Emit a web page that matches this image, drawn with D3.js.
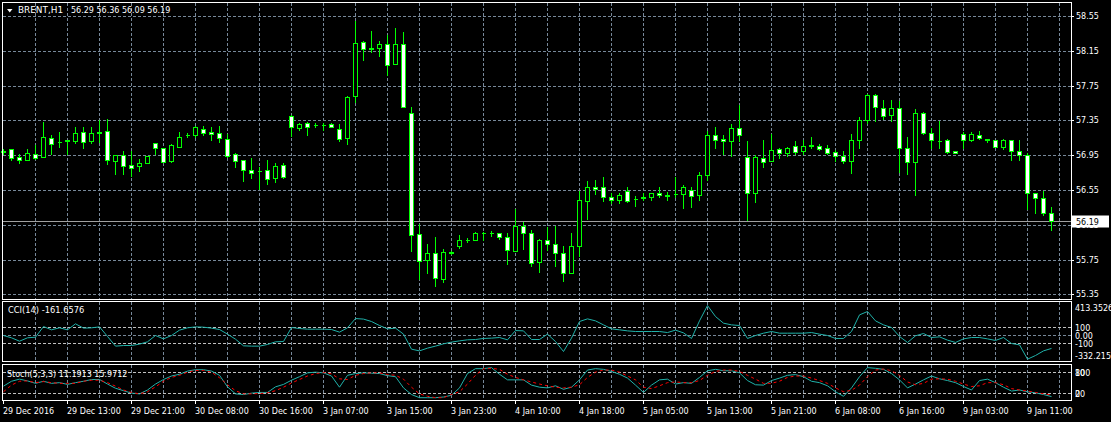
<!DOCTYPE html>
<html><head><meta charset="utf-8">
<script src="https://cdn.jsdelivr.net/npm/d3@7"></script>
<style>
html,body{margin:0;padding:0;background:#000;overflow:hidden}
svg text{font-family:"DejaVu Sans",sans-serif;font-size:8px;fill:#fff}
</style>
</head><body>
<svg id="chart" width="1111" height="422"></svg>
<script>
// ---- data ----
const opens = [57.00,57.02,56.93,56.89,56.97,56.93,57.15,57.105,57.12,57.11,57.22,57.11,57.215,57.23,56.88,56.95,56.84,56.83,56.86,57.09,57.03,56.88,57.05,57.185,57.18,57.25,57.22,57.21,57.14,56.96,56.89,56.78,56.77,56.78,56.69,56.84,
57.40,57.26,57.32,57.30,57.30,57.31,57.25,57.15,57.63,58.25,58.18,58.18,58.23,58.00,58.23,57.44,56.04,55.74,55.82,55.53,55.84,55.90,55.97,55.97,56.06,56.06,56.06,56.01,55.85,56.14,56.06,55.72,55.98,55.93,55.83,55.60,
55.91,56.42,56.59,56.59,56.47,56.44,56.54,56.45,56.465,56.47,56.52,56.49,56.50,56.50,56.55,56.49,56.72,57.18,57.14,57.11,57.26,56.93,56.52,56.92,56.88,57.02,56.98,57.06,57.00,57.067,57.06,57.03,56.99,56.94,
56.88,57.12,57.36,57.64,57.49,57.41,57.49,57.03,56.87,57.44,57.21,57.115,57.12,57.00,57.20,57.12,57.18,57.14,57.12,57.04,57.12,57.00,56.95,56.51,56.46,56.29];
const highs = [57.02,57.02,56.97,57.02,57.07,57.33,57.18,57.22,57.12,57.27,57.28,57.27,57.36,57.37,56.95,57.00,57.00,56.91,56.94,57.09,57.03,57.08,57.22,57.21,57.29,57.29,57.27,57.29,57.20,56.98,56.90,56.92,56.81,56.89,56.86,56.86,
57.41,57.32,57.33,57.32,57.32,57.32,57.31,57.63,58.49,58.27,58.38,58.26,58.33,58.42,58.37,57.50,56.16,55.93,56.01,55.87,55.85,56.03,56.00,56.07,56.07,56.08,56.06,56.05,56.33,56.18,56.09,55.99,56.12,56.14,55.91,56.06,
56.54,56.65,56.66,56.70,56.51,56.51,56.58,56.48,56.51,56.52,56.59,56.53,56.70,56.61,56.59,56.76,57.23,57.28,57.18,57.31,57.53,57.11,56.95,57.12,57.19,57.03,57.04,57.11,57.12,57.16,57.08,57.07,57.01,57.00,
57.20,57.39,57.65,57.66,57.59,57.59,57.57,57.16,57.48,57.45,57.26,57.34,57.14,57.00,57.22,57.22,57.23,57.14,57.12,57.14,57.12,57.13,56.98,56.51,56.54,56.36];
const lows = [56.97,56.89,56.86,56.89,56.91,56.93,56.96,57.04,56.96,57.09,57.03,57.09,57.10,56.85,56.73,56.73,56.71,56.77,56.86,56.96,56.87,56.87,57.04,57.155,57.16,57.18,57.12,57.10,56.93,56.81,56.65,56.69,56.56,56.62,56.64,56.69,
57.17,57.24,57.18,57.28,57.24,57.27,57.11,57.08,57.56,58.05,58.14,58.09,57.87,58.00,57.51,55.85,55.52,55.59,55.45,55.49,55.81,55.88,55.95,55.97,55.98,56.02,55.99,55.70,55.85,55.87,55.67,55.61,55.86,55.67,55.50,55.60,
55.79,56.22,56.50,56.42,56.40,56.40,56.41,56.37,56.43,56.43,56.47,56.44,56.47,56.34,56.36,56.43,56.67,57.03,56.96,56.94,57.11,56.20,56.41,56.81,56.88,56.92,56.94,56.96,56.96,57.03,57.01,56.97,56.88,56.86,
56.74,57.03,57.32,57.34,57.37,57.34,56.76,56.73,56.49,57.20,57.03,57.03,56.98,56.975,57.03,57.11,57.14,57.10,57.04,57.02,56.90,56.89,56.33,56.28,56.26,56.09];
const closes = [56.99,56.92,56.90,56.98,56.92,57.16,57.08,57.10,57.115,57.21,57.10,57.21,57.21,56.89,56.95,56.83,56.80,56.86,56.94,57.03,56.87,57.07,57.16,57.18,57.27,57.21,57.19,57.15,56.94,56.88,56.78,56.75,56.765,56.68,56.83,56.70,
57.27,57.31,57.28,57.30,57.295,57.27,57.14,57.62,58.24,58.17,58.175,58.23,57.99,58.23,57.51,56.03,55.73,55.82,55.54,55.84,55.82,55.98,55.97,56.06,56.06,56.055,56.01,55.86,56.14,56.06,55.71,55.98,55.93,55.82,55.59,55.91,
56.43,56.58,56.56,56.47,56.44,56.49,56.42,56.445,56.46,56.52,56.49,56.485,56.505,56.58,56.48,56.72,57.18,57.13,57.11,57.26,57.18,56.52,56.93,56.87,57.01,56.98,57.03,56.99,57.06,57.062,57.02,56.98,56.94,56.88,
57.12,57.36,57.64,57.50,57.40,57.49,57.03,56.87,57.44,57.21,57.12,57.115,56.99,56.98,57.12,57.20,57.15,57.12,57.05,57.12,57.00,56.95,56.51,56.46,56.28,56.19];

const cciValues = [0,-29,-71,-29,-21,112,71,96,71,146,92,96,108,-12,-133,-125,-125,-108,-79,0,-42,0,67,96,108,104,92,75,17,-46,-129,-133,-133,-112,-79,-75,
100,87,79,79,79,75,42,96,212,205,175,125,83,92,17,-171,-192,-158,-133,-104,-83,-67,-54,-50,-37,-33,-25,-54,62,58,-50,-50,17,-75,-200,-33,
175,208,183,133,83,71,58,50,50,50,50,37,67,33,-37,183,375,237,154,133,125,-37,0,29,50,29,29,29,29,37,17,0,-37,-37,
50,258,300,183,133,100,-12,-87,-4,25,-25,-17,-58,-87,-42,-25,-25,-42,-62,-25,-100,-117,-296,-250,-192,-161.6576];

const stochMain = [41,55,61,56,49,55,49,51,46,51,55,60,60,47,35,28,21,19,30,47,60,70,75,84,88,88,84,72,39,19,17,21,23,23,39,46,
58,68,79,81,79,70,38,72,77,79,78,77,71,68,36,17,8,8,8,10,15,36,77,91,91,94,75,59,59,59,44,38,36,42,32,38,
59,87,91,89,83,75,64,44,23,44,59,61,47,51,49,66,85,89,85,85,79,57,45,44,57,64,72,74,68,55,51,42,25,12,
36,68,94,92,89,77,59,36,47,59,70,62,57,51,40,30,57,61,51,38,27,30,25,22,17,11.1913];
const stochSignal = [25,44,55,56,51,54,51,49,49,49,55,58,58,51,41,30,23,19,25,39,55,66,72,81,86,86,81,65,45,28,19,19,20,22,28,38,
50,60,70,77,80,76,62,60,72,77,79,79,74,72,61,38,19,12,8,8,17,25,47,72,91,92,89,75,66,59,53,47,42,38,36,38,
45,66,81,87,87,81,70,59,38,34,42,51,53,51,51,57,72,83,87,87,83,72,61,49,49,55,66,70,70,64,57,49,36,25,
29,44,68,87,90,85,72,53,45,49,61,62,61,55,47,40,42,51,51,45,34,30,27,23,19,15.9712];

const timeLabels = ["29 Dec 2016","29 Dec 13:00","29 Dec 21:00","30 Dec 08:00","30 Dec 16:00","3 Jan 07:00","3 Jan 15:00","3 Jan 23:00","4 Jan 10:00","4 Jan 18:00","5 Jan 05:00","5 Jan 13:00","5 Jan 21:00","6 Jan 08:00","6 Jan 16:00","9 Jan 03:00","9 Jan 11:00"];
const priceTicks = [58.55,58.15,57.75,57.35,56.95,56.55,56.15,55.75,55.35];
const cciLevels = [100,0,-100];
const cciScaleLabels = ["413.3526","100","0.00","-100","-332.215"];
const cciScaleValues = [413.3526,100,0,-100,-332.215];
const stochLevels = [80,20];
const stochScaleLabels = ["100","80","0","20"];
const stochScaleValues = [80,80,20,20];
const symbolName = "BRENT,H1";
const symbolOHLC = ["56.29","56.36","56.09","56.19"];
const cciTitle = "CCI(14) -161.6576";
const stochTitle = "Stoch(5,3,3) 11.1913 15.9712";
const lastPrice = 56.19;

// ---- layout ----
const svg = d3.select("#chart");
svg.append("rect").attr("width",1111).attr("height",422).attr("fill","#000");
const L = 2, R = 1071;
const main = {top:2, bot:299};
const cciP = {top:301, bot:361};
const stP = {top:364, bot:400};
const GRID = "#778899", LEVEL = "#c0c0c0", LIME = "#00ff00";

const n = opens.length;
const x = d3.scaleLinear().domain([0, n-1]).range([3, 3 + 8*(n-1)]);
const yP = d3.scaleLinear().domain([55.35, 58.55]).range([294.75, 16.75]);
const yC = d3.scaleLinear().domain([-100, 100]).range([343.5, 327.5]);
const yS = d3.scaleLinear().domain([20, 80]).range([393.5, 372.5]);
const px = v => Math.floor(v) + 0.5;

// vertical grid
const vIdx = d3.range(4, n + 2, 4);
[main, cciP, stP].forEach(p => {
  svg.append("g").selectAll("line").data(vIdx).join("line")
    .attr("x1", d => x(d) + 0.5).attr("x2", d => x(d) + 0.5)
    .attr("y1", p.top + 1).attr("y2", p.bot)
    .attr("stroke", GRID).attr("stroke-dasharray", "3,2").attr("shape-rendering","crispEdges");
});
// horizontal price grid
svg.append("g").selectAll("line").data(priceTicks).join("line")
  .attr("x1", L + 1).attr("x2", R)
  .attr("y1", d => px(yP(d))).attr("y2", d => px(yP(d)))
  .attr("stroke", GRID).attr("stroke-dasharray", "3,2").attr("shape-rendering","crispEdges");

// last price line
svg.append("line").attr("x1", L + 1).attr("x2", R)
  .attr("y1", px(yP(lastPrice))).attr("y2", px(yP(lastPrice)))
  .attr("stroke", "#a0a0a0").attr("shape-rendering","crispEdges");

// candles
const idx = d3.range(n);
const cg = svg.append("g").attr("shape-rendering","crispEdges");
cg.selectAll("line").data(idx).join("line")
  .attr("x1", i => x(i) + 0.5).attr("x2", i => x(i) + 0.5)
  .attr("y1", i => Math.floor(yP(highs[i]))).attr("y2", i => Math.floor(yP(lows[i])) + 1)
  .attr("stroke", LIME);
cg.selectAll("path").data(idx).join("path")
  .attr("d", i => {
    const t = Math.floor(yP(Math.max(opens[i], closes[i])));
    const b = Math.floor(yP(Math.min(opens[i], closes[i])));
    return `M${x(i) - 1.5},${t + 0.5}h4v${b - t}h-4Z`;
  })
  .attr("fill", i => closes[i] > opens[i] ? "#000" : "#fff")
  .attr("stroke", LIME);

// CCI levels
svg.append("g").selectAll("line").data(cciLevels).join("line")
  .attr("x1", L + 1).attr("x2", R)
  .attr("y1", d => yC(d)).attr("y2", d => yC(d))
  .attr("stroke", d => d === 0 ? GRID : LEVEL).attr("stroke-dasharray", "3,2").attr("shape-rendering","crispEdges");
// Stoch levels
svg.append("g").selectAll("line").data(stochLevels).join("line")
  .attr("x1", L + 1).attr("x2", R)
  .attr("y1", d => yS(d)).attr("y2", d => yS(d))
  .attr("stroke", LEVEL).attr("stroke-dasharray", "3,2").attr("shape-rendering","crispEdges");

// indicator lines
svg.append("path").datum(cciValues)
  .attr("d", d3.line().x((d, i) => x(i) + 0.5).y(d => yC(d)))
  .attr("fill", "none").attr("stroke", "#20b2aa").attr("stroke-width", 1);
svg.append("path").datum(stochMain)
  .attr("d", d3.line().x((d, i) => x(i) + 0.5).y(d => yS(d)))
  .attr("fill", "none").attr("stroke", "#20b2aa").attr("stroke-width", 1);
svg.append("path").datum(stochSignal)
  .attr("d", d3.line().x((d, i) => x(i) + 0.5).y(d => yS(d)))
  .attr("fill", "none").attr("stroke", "#ff0000").attr("stroke-width", 1).attr("stroke-dasharray", "3,3");

// frames
[main, cciP, stP].forEach(p => {
  svg.append("rect").attr("x", L + 0.5).attr("y", p.top + 0.5)
    .attr("width", R - L).attr("height", p.bot - p.top)
    .attr("fill", "none").attr("stroke", "#fff").attr("shape-rendering","crispEdges");
});

// right price axis
const ax = svg.append("g").attr("transform", `translate(${R},0)`)
  .call(d3.axisRight(yP).tickValues(priceTicks).tickFormat(d3.format(".2f")).tickSize(3).tickPadding(2));
ax.select(".domain").remove();
ax.selectAll(".tick line").attr("stroke", "#fff").attr("shape-rendering","crispEdges");
ax.selectAll(".tick").attr("transform", d => `translate(0,${px(yP(d))})`);
ax.selectAll("text").attr("fill", "#fff").style("font-family","DejaVu Sans").style("font-size","8px");

// price tag
const tagY = px(yP(lastPrice));
svg.append("rect").attr("x", R + 1).attr("y", tagY - 6).attr("width", 37).attr("height", 12).attr("fill", "#fff");
svg.append("text").attr("x", R + 5).attr("y", tagY + 3).text(d3.format(".2f")(lastPrice)).style("fill", "#000");

// CCI right labels
svg.append("g").selectAll("text").data(cciScaleLabels).join("text")
  .attr("x", R + 4)
  .attr("y", (d, k) => k === 0 ? 311 : (k === 4 ? 359 : yC(cciScaleValues[k]) + 3))
  .text(d => d);
// Stoch right labels
svg.append("g").selectAll("text").data(stochScaleLabels).join("text")
  .attr("x", R + 4)
  .attr("y", (d, k) => yS(stochScaleValues[k]) + 3)
  .text(d => d);

// bottom time axis
const tIdx = d3.range(0, n, 8);
const bx = svg.append("g").attr("transform", `translate(0,${stP.bot + 1})`)
  .call(d3.axisBottom(x).tickValues(tIdx).tickFormat((d, k) => timeLabels[k]).tickSize(3).tickPadding(4));
bx.select(".domain").remove();
bx.selectAll(".tick line").attr("stroke", "#fff").attr("shape-rendering","crispEdges");
bx.selectAll("text").attr("fill", "#fff").attr("text-anchor", "start").attr("x", -0.5)
  .style("font-family","DejaVu Sans").style("font-size","8px");

// titles
svg.append("path").attr("d", "M7,9L12.5,9L9.75,12.5Z").attr("fill", "#fff");
const tt = svg.append("text").attr("y", 13);
tt.append("tspan").attr("x", 18).style("font-size", "8.9px").text(symbolName);
tt.append("tspan").attr("x", 71).text(symbolOHLC.join(" "));
svg.append("text").attr("x", 8).attr("y", 313).style("font-size", "8.3px").text(cciTitle);
svg.append("text").attr("x", 7).attr("y", 377).text(stochTitle);
</script>
</body></html>
